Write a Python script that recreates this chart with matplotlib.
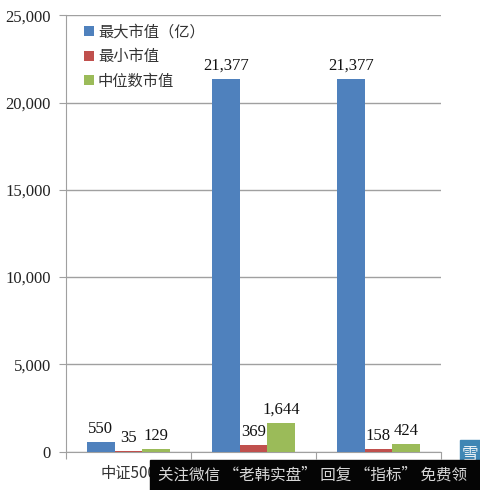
import matplotlib
matplotlib.use("Agg")
import matplotlib.pyplot as plt
import matplotlib.patches as patches
import numpy as np

plt.rcParams['font.family'] = ['Noto Sans CJK SC', 'DejaVu Sans']

categorias = ["中证500", "", ""]
maximo = [550, 21377, 21377]
minimo = [35, 369, 158]
mediana = [129, 1644, 424]
rotulos_y = [0, 5000, 10000, 15000, 20000, 25000]
series = ["最大市值（亿）", "最小市值", "中位数市值"]
banner = "关注微信 “老韩实盘” 回复 “指标” 免费领"

cores = ["#4f81bd", "#c0504d", "#9bbb59"]
W, H = 480, 490

fig = plt.figure(figsize=(W / 100, H / 100), dpi=100)
ax = fig.add_axes([66 / W, 1 - 451.5 / H, 375 / W, 436 / H])

x = np.arange(3)
larg = 0.222
for i, valores in enumerate([maximo, minimo, mediana]):
    ax.bar(x + (i - 1) * larg, valores, larg, color=cores[i], label=series[i], zorder=3)
    for xi, v in zip(x, valores):
        ax.text(xi + (i - 1) * larg, v + 300, f"{v:,}", ha="center", va="bottom",
                family="Liberation Serif", fontsize=12, color="#111111", zorder=4)

ax.set_xlim(-0.5, 2.5)
ax.set_ylim(0, 25000)
ax.set_yticks(rotulos_y)
ax.set_yticklabels([f"{v:,}" for v in rotulos_y], family="Liberation Serif", fontsize=12, color="#222222")
ax.set_xticks([-0.5, 0.5, 1.5, 2.5])
ax.set_xticklabels([])
ax.tick_params(axis="x", length=5, color="#a0a0a0", direction="out")
ax.tick_params(axis="y", length=5, color="#a0a0a0", pad=6)
ax.grid(axis="y", color="#a0a0a0", linewidth=1, zorder=0)
for lado in ["top", "right"]:
    ax.spines[lado].set_visible(False)
for lado in ["left", "bottom"]:
    ax.spines[lado].set_color("#a0a0a0")

for xi, nome in zip(x, categorias):
    ax.text(xi, -760, nome, ha="center", va="top", fontsize=11, color="#333333",
            family=["Noto Sans CJK SC", "Liberation Serif"])

ax.legend(loc="upper left", bbox_to_anchor=(0.024, 1.003), frameon=False, fontsize=11,
          handlelength=0.65, handleheight=0.65, handletextpad=0.25, labelspacing=0.5,
          borderpad=0.1, labelcolor="#333333")

# tarja preta e selo azul por cima do grafico
fig.add_artist(patches.Rectangle((150 / W, 0), 330 / W, 30 / H, transform=fig.transFigure,
                                 color="#050505", zorder=10))
fig.text(158 / W, 15 / H, banner, color="#d8d8d8", fontsize=11.2, va="center", ha="left", zorder=11)
fig.add_artist(patches.Rectangle((460 / W, 30 / H), 20 / W, 20 / H, transform=fig.transFigure,
                                 color="#3f86b4", zorder=9))
fig.text(470 / W, 36 / H, "雪", color="#e8f0f5", fontsize=12, va="center", ha="center", zorder=9.5)

fig.savefig("out.png", dpi=100)
